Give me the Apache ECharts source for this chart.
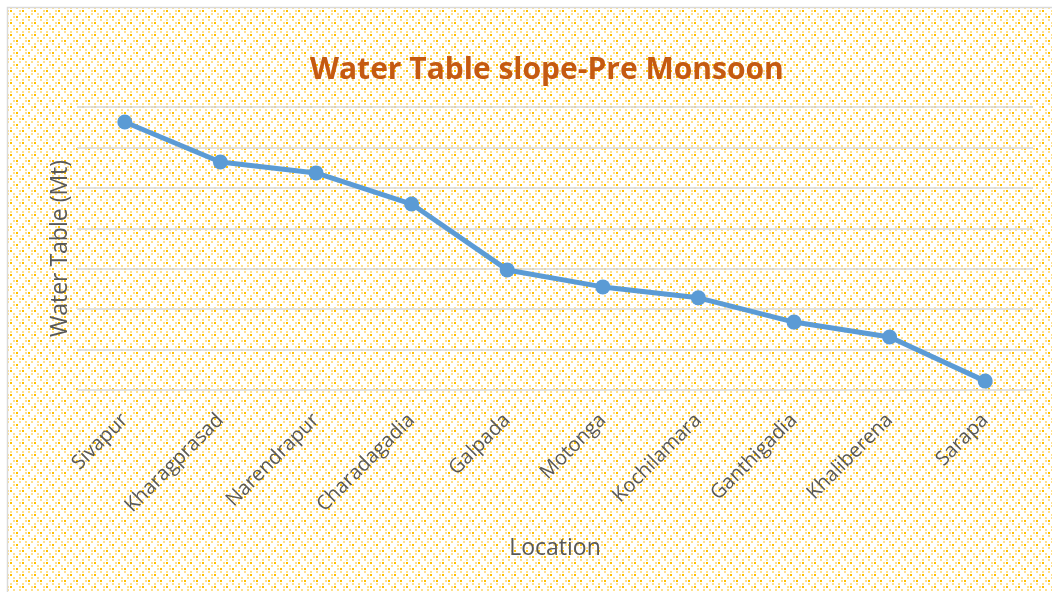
<!DOCTYPE html>
<html>
<head>
<meta charset="utf-8">
<script src="https://cdn.jsdelivr.net/npm/echarts@6/dist/echarts.min.js"></script>
<style>
  html, body { margin: 0; padding: 0; background: #fff; }
  #chart { width: 1052px; height: 592px; }
</style>
</head>
<body>
<div id="chart"></div>
<script>
const locations = ['Sivapur', 'Kharagprasad', 'Narendrapur', 'Charadagadia', 'Galpada',
    'Motonga', 'Kochilamara', 'Ganthigadia', 'Khaliberena', 'Sarapa']
const waterTable = [6.63, 5.64, 5.37, 4.6, 2.97, 2.55, 2.28, 1.68, 1.31, 0.22]

// dotted fill like the office "20% dots" pattern
function dotPattern() {
    let c = document.createElement('canvas')
    c.width = 12
    c.height = 12
    let ctx = c.getContext('2d')
    ctx.fillStyle = '#fff'
    ctx.fillRect(0, 0, 12, 12)
    let light = [[1, 1], [7, 1], [4, 7], [10, 7], [1, 4], [7, 10]]
    let dark = [[4, 4], [10, 10]]
    ctx.fillStyle = '#ffe08c'
    light.forEach(p => ctx.fillRect(p[0], p[1], 2, 2))
    ctx.fillStyle = '#ffc000'
    dark.forEach(p => ctx.fillRect(p[0], p[1], 2, 2))
    return c
}

let chart = echarts.init(document.getElementById('chart'))
chart.setOption({
    backgroundColor: '#fff',
    animation: false,
    graphic: [{
        type: 'rect',
        z: -100,
        silent: true,
        shape: {x: 7.5, y: 7.5, width: 1060, height: 600},
        style: {
            fill: {image: dotPattern(), repeat: 'repeat'},
            stroke: '#d9d9d9',
            lineWidth: 1.5
        }
    }],
    title: {
        text: 'Water Table slope-Pre Monsoon',
        left: 305,
        top: 50,
        textStyle: {
            color: '#c55a11',
            fontFamily: 'Open Sans',
            fontWeight: 'bold',
            fontSize: 30
        }
    },
    grid: {left: 77, right: 19, top: 107, bottom: 202},
    xAxis: {
        type: 'category',
        data: locations,
        boundaryGap: true,
        name: 'Location',
        nameLocation: 'middle',
        nameGap: 147,
        nameTextStyle: {color: '#595959', fontFamily: 'Open Sans', fontSize: 23},
        axisLine: {show: false},
        axisTick: {show: false},
        axisLabel: {
            rotate: 45,
            margin: 27,
            color: '#595959',
            fontFamily: 'Open Sans',
            fontSize: 20
        }
    },
    yAxis: {
        type: 'value',
        min: 0,
        max: 7,
        interval: 1,
        name: 'Water Table (Mt)',
        nameLocation: 'middle',
        nameGap: 5,
        nameTextStyle: {color: '#595959', fontFamily: 'Open Sans', fontSize: 23},
        axisLabel: {show: false},
        axisLine: {show: false},
        axisTick: {show: false},
        splitLine: {lineStyle: {color: '#d9d9d9', width: 1.5}}
    },
    series: [{
        type: 'line',
        data: waterTable,
        symbol: 'circle',
        symbolSize: 15,
        lineStyle: {color: '#5b9bd5', width: 5},
        itemStyle: {color: '#5b9bd5'}
    }]
})
</script>
</body>
</html>
